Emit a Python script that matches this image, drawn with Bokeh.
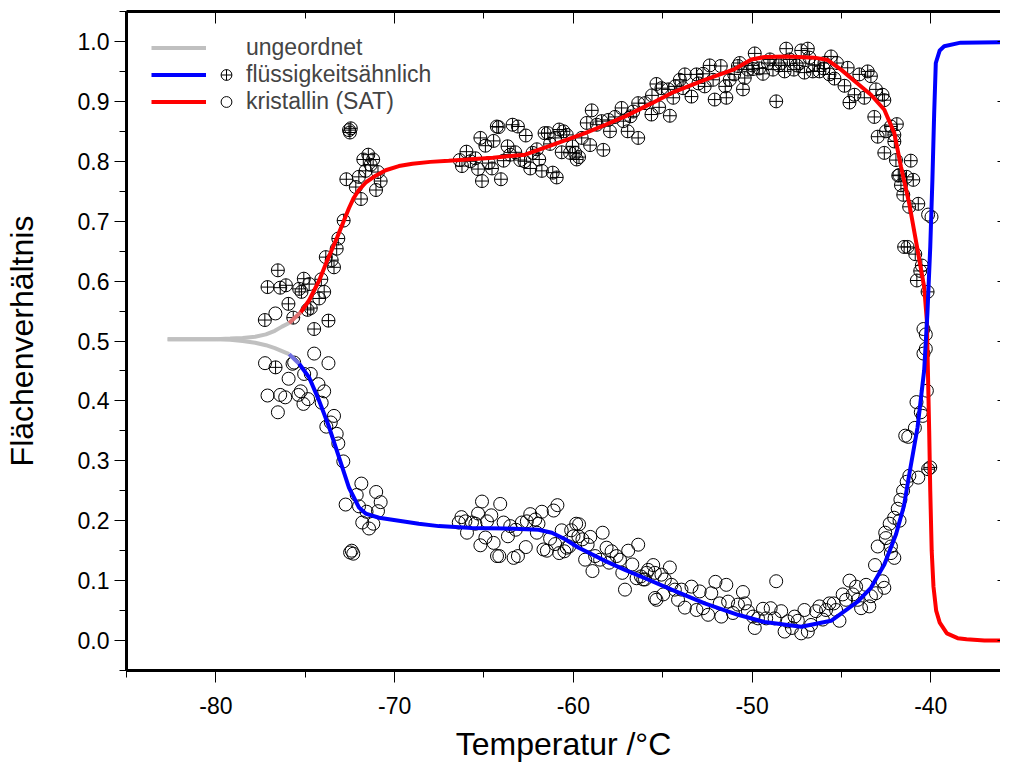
import numpy as np
from bokeh.plotting import figure
from bokeh.models import (LinearAxis, FixedTicker, Range1d, Legend, LegendItem,
                          PrintfTickFormatter, CustomLabelingPolicy)
from bokeh.embed import file_html
from bokeh.resources import INLINE

FONT = "Liberation Sans"

# ---------------- data ----------------
x_major = [-80, -70, -60, -50, -40]
x_minor = [-85, -75, -65, -55, -45, -35]
y_major = [0.0, 0.1, 0.2, 0.3, 0.4, 0.5, 0.6, 0.7, 0.8, 0.9, 1.0]
y_minor = [-0.05, 0.05, 0.15, 0.25, 0.35, 0.45, 0.55, 0.65, 0.75, 0.85, 0.95, 1.05]

# "ungeordnet" (grey) branches
gray_x = [-82.7, -81.0, -80.0, -79.2, -78.5, -77.8, -77.2, -76.7, -76.3, -75.9]
gray_up = [0.503, 0.503, 0.503, 0.504, 0.505, 0.507, 0.511, 0.517, 0.524, 0.530]
gray_lo = [0.503, 0.503, 0.503, 0.502, 0.500, 0.497, 0.493, 0.488, 0.483, 0.478]

# kristallin (SAT) - red curve
red_x = [-75.9, -75.25, -74.78, -74.22, -73.76, -73.2, -72.55, -72.3, -72.0, -71.6,
         -71.06, -70.5, -69.76, -69.0, -68.0, -66.97, -64.5, -62.7, -61.4, -59.34,
         -58.2, -57.1, -55.6, -54.5, -52.65, -50.97, -50.04, -49.3, -48.0, -46.51,
         -45.77, -45.02, -44.27, -43.35, -42.6, -42.04, -41.67, -41.21, -40.74, -40.37,
         -40.22, -40.15, -40.09, -40.03, -39.95, -39.85, -39.7, -39.5, -39.1, -38.5,
         -38.0, -37.0, -35.55]
red_y = [0.530, 0.548, 0.568, 0.601, 0.635, 0.674, 0.722, 0.738, 0.752, 0.765,
         0.776, 0.785, 0.792, 0.796, 0.799, 0.801, 0.806, 0.811, 0.825, 0.847,
         0.861, 0.875, 0.897, 0.914, 0.936, 0.954, 0.970, 0.974, 0.975, 0.973,
         0.969, 0.953, 0.934, 0.911, 0.886, 0.847, 0.791, 0.730, 0.652, 0.590,
         0.534, 0.434, 0.350, 0.250, 0.150, 0.090, 0.050, 0.030, 0.012, 0.004,
         0.002, 0.000, 0.000]

# fluessigkeitsaehnlich - blue curve
blue_x = [-75.9, -75.34, -74.78, -74.22, -73.66, -73.1, -72.55, -71.99, -71.62, -70.87,
          -68.65, -67.53, -65.67, -63.81, -61.95, -61.2, -60.46, -59.7, -58.96, -58.23,
          -57.11, -55.99, -54.5, -52.65, -50.79, -49.3, -47.25, -45.58, -44.09, -43.35,
          -42.6, -41.95, -41.5, -41.2, -40.74, -40.37, -40.19, -40.03, -39.91, -39.81,
          -39.72, -39.5, -39.25, -38.33, -35.55]
blue_y = [0.478, 0.462, 0.439, 0.400, 0.356, 0.305, 0.255, 0.222, 0.212, 0.205,
          0.195, 0.191, 0.188, 0.187, 0.185, 0.180, 0.169, 0.155, 0.144, 0.133,
          0.118, 0.104, 0.085, 0.062, 0.043, 0.031, 0.023, 0.033, 0.065, 0.088,
          0.127, 0.177, 0.225, 0.278, 0.356, 0.451, 0.546, 0.657, 0.769, 0.881,
          0.964, 0.985, 0.992, 0.998, 0.999]

# measured points, crossed circles
cross_x = [-72.55, -72.45, -72.5, -71.47, -71.75, -71.2, -71.34, -71.62, -70.93, -72.0,
           -72.7, -70.78, -72.17, -71.04, -71.88, -72.85, -73.15, -73.24, -73.85, -73.52,
           -73.39, -76.53, -75.08, -74.1, -77.11, -76.08, -76.4, -75.34, -74.78, -75.21,
           -73.94, -74.22, -75.94, -74.69, -74.87, -77.26, -75.67, -73.7, -74.5, -76.66,
           -66.36, -66.23, -65.98, -65.76, -65.48, -65.33, -65.11, -65.2, -64.92, -64.46,
           -64.74, -64.55, -64.28, -64.18, -64.05, -63.9, -63.68, -63.53, -63.4, -63.1,
           -63.25, -62.97, -62.66, -62.73, -62.41, -62.28, -62.04, -61.91, -61.76, -61.61,
           -61.43, -61.3, -61.15, -60.93, -61.02, -60.79, -60.65, -60.55, -60.37, -60.18,
           -60.05, -59.9, -59.81, -59.68, -59.53, -59.25, -59.06, -58.97, -58.69, -58.42,
           -58.32, -58.04, -57.95, -57.67, -57.3, -57.2, -56.96, -56.65, -56.37, -56.37,
           -55.99, -55.63, -55.35, -55.07, -54.6, -54.69, -54.41, -54.04, -53.76, -53.86,
           -53.39, -53.11, -52.74, -52.65, -52.37, -52.09, -52.18, -51.75, -51.44, -51.5,
           -51.25, -50.79, -50.69, -50.51, -50.41, -50.23, -49.85, -49.95, -49.39, -49.11,
           -48.65, -48.83, -48.37, -48.09, -48.18, -47.66, -47.34, -47.25, -47.07, -46.88,
           -46.79, -46.51, -46.23, -45.95, -45.67, -45.58, -45.25, -45.39, -44.83, -44.65,
           -44.55, -44.27, -44.0, -43.53, -43.35, -43.72, -43.07, -42.7, -42.6, -43.16,
           -42.97, -42.51, -42.23, -42.6, -42.04, -41.76, -51.0, -50.0, -49.6, -49.0,
           -48.5, -47.9, -47.5, -46.6, -46.0, -53.0, -54.3, -55.6, -56.8, -55.2,
           -41.9, -42.04, -41.95, -41.12, -41.82, -41.36, -40.98, -41.67, -41.54, -41.21,
           -40.7, -41.49, -41.3, -40.87, -40.5, -40.59, -40.78, -40.18, -40.03, -40.15]
cross_y = [0.852, 0.855, 0.848, 0.811, 0.803, 0.803, 0.794, 0.784, 0.782, 0.774,
           0.770, 0.767, 0.757, 0.752, 0.737, 0.701, 0.671, 0.654, 0.640, 0.635,
           0.623, 0.618, 0.604, 0.603, 0.590, 0.593, 0.589, 0.587, 0.595, 0.582,
           0.582, 0.571, 0.562, 0.555, 0.552, 0.535, 0.539, 0.534, 0.520, 0.456,
           0.802, 0.792, 0.816, 0.800, 0.805, 0.787, 0.767, 0.839, 0.826, 0.834,
           0.797, 0.788, 0.858, 0.857, 0.770, 0.801, 0.825, 0.811, 0.861, 0.858,
           0.815, 0.802, 0.843, 0.800, 0.788, 0.814, 0.820, 0.803, 0.784, 0.847,
           0.847, 0.829, 0.781, 0.773, 0.839, 0.853, 0.815, 0.850, 0.844, 0.814,
           0.825, 0.814, 0.803, 0.807, 0.839, 0.864, 0.827, 0.885, 0.861, 0.867,
           0.819, 0.869, 0.850, 0.874, 0.889, 0.867, 0.850, 0.883, 0.839, 0.897,
           0.897, 0.878, 0.929, 0.922, 0.876, 0.920, 0.906, 0.936, 0.945, 0.922,
           0.908, 0.945, 0.946, 0.925, 0.960, 0.903, 0.936, 0.959, 0.906, 0.925,
           0.936, 0.959, 0.964, 0.920, 0.939, 0.953, 0.980, 0.954, 0.946, 0.964,
           0.900, 0.953, 0.964, 0.988, 0.950, 0.953, 0.964, 0.985, 0.948, 0.988,
           0.973, 0.961, 0.950, 0.964, 0.945, 0.975, 0.964, 0.938, 0.926, 0.956,
           0.898, 0.911, 0.945, 0.950, 0.942, 0.906, 0.920, 0.911, 0.902, 0.874,
           0.841, 0.850, 0.858, 0.814, 0.844, 0.777, 0.945, 0.960, 0.955, 0.970,
           0.960, 0.970, 0.960, 0.950, 0.955, 0.930, 0.925, 0.910, 0.875, 0.890,
           0.862, 0.833, 0.802, 0.801, 0.776, 0.774, 0.769, 0.760, 0.744, 0.724,
           0.729, 0.657, 0.657, 0.645, 0.626, 0.617, 0.601, 0.582, 0.289, 0.286]

# measured points, open circles
open_x = [-76.67, -77.25, -74.5, -73.7, -75.71, -75.62, -75.93, -75.06, -74.69, -74.26,
          -73.94, -75.25, -75.38, -74.84, -75.1, -74.08, -77.11, -76.4, -76.12, -76.53,
          -73.39, -73.57, -73.82, -73.24, -73.15, -72.87, -71.86, -71.03, -70.78, -72.74,
          -72.12, -71.99, -70.93, -71.57, -71.81, -71.19, -71.43, -72.49, -72.31, -72.4,
          -66.41, -66.26, -66.04, -65.95, -65.67, -65.48, -65.33, -65.11, -65.2, -64.92,
          -64.83, -64.59, -64.46, -64.27, -64.14, -64.09, -63.9, -63.66, -63.53, -63.34,
          -63.1, -63.22, -62.88, -62.66, -62.6, -62.41, -62.13, -61.95, -61.76, -62.04,
          -61.67, -61.48, -61.3, -61.1, -60.89, -61.02, -60.79, -60.65, -60.5, -60.37,
          -60.23, -60.12, -59.99, -59.84, -59.68, -59.72, -59.49, -59.34, -59.2, -59.05,
          -58.93, -58.78, -58.5, -58.36, -58.14, -58.0, -57.86, -57.58, -57.39, -57.26,
          -57.11, -56.93, -56.7, -56.37, -56.46, -56.22, -55.99, -55.81, -55.53, -55.43,
          -56.09, -55.9, -55.35, -55.44, -55.07, -54.88, -54.6, -54.97, -54.51, -54.32,
          -54.14, -53.95, -53.76, -53.39, -53.11, -52.93, -52.74, -52.46, -52.28, -52.05,
          -51.81, -51.72, -51.44, -51.34, -51.07, -50.79, -50.51, -50.4, -50.23, -49.95,
          -49.85, -49.67, -49.39, -49.21, -48.96, -48.65, -48.74, -48.37, -48.18, -48.0,
          -47.77, -47.62, -47.44, -47.25, -47.07, -46.88, -46.7, -46.42, -46.23, -46.04,
          -45.86, -45.67, -45.43, -45.3, -45.11, -44.93, -44.74, -44.55, -44.36, -44.18,
          -44.09, -43.9, -43.62, -43.44, -43.35, -43.07, -43.12, -42.7, -42.6, -42.97,
          -42.51, -42.23, -42.23, -42.04, -42.55, -42.3, -42.05, -41.85, -41.7, -41.55,
          -41.35, -41.75, -41.2, -40.7, -40.89, -41.43, -41.26, -40.8, -40.56, -40.45,
          -40.22, -40.41, -40.28, -40.28, -40.41, -40.15, -39.96]
open_y = [0.546, 0.463, 0.479, 0.463, 0.462, 0.464, 0.437, 0.445, 0.445, 0.428,
          0.416, 0.416, 0.410, 0.403, 0.395, 0.397, 0.409, 0.410, 0.406, 0.381,
          0.375, 0.364, 0.357, 0.345, 0.329, 0.299, 0.262, 0.248, 0.231, 0.227,
          0.243, 0.224, 0.216, 0.215, 0.197, 0.195, 0.187, 0.147, 0.145, 0.150,
          0.197, 0.206, 0.199, 0.180, 0.197, 0.195, 0.212, 0.232, 0.159, 0.172,
          0.199, 0.209, 0.163, 0.141, 0.141, 0.228, 0.197, 0.174, 0.191, 0.138,
          0.141, 0.185, 0.197, 0.156, 0.199, 0.211, 0.202, 0.195, 0.215, 0.180,
          0.152, 0.150, 0.170, 0.217, 0.226, 0.161, 0.146, 0.184, 0.149, 0.155,
          0.157, 0.184, 0.174, 0.195, 0.194, 0.174, 0.169, 0.135, 0.160, 0.173,
          0.116, 0.141, 0.135, 0.180, 0.155, 0.130, 0.149, 0.141, 0.135, 0.113,
          0.085, 0.150, 0.127, 0.160, 0.104, 0.107, 0.102, 0.118, 0.126, 0.071,
          0.102, 0.113, 0.068, 0.113, 0.110, 0.102, 0.122, 0.077, 0.093, 0.085,
          0.068, 0.085, 0.055, 0.090, 0.051, 0.082, 0.054, 0.043, 0.079, 0.098,
          0.062, 0.040, 0.093, 0.065, 0.046, 0.060, 0.081, 0.062, 0.049, 0.040,
          0.021, 0.037, 0.053, 0.037, 0.054, 0.099, 0.037, 0.049, 0.015, 0.032,
          0.021, 0.040, 0.033, 0.012, 0.051, 0.015, 0.026, 0.049, 0.057, 0.035,
          0.051, 0.062, 0.062, 0.051, 0.033, 0.077, 0.068, 0.100, 0.077, 0.090,
          0.068, 0.054, 0.093, 0.057, 0.074, 0.079, 0.126, 0.099, 0.088, 0.157,
          0.171, 0.157, 0.146, 0.138, 0.180, 0.195, 0.205, 0.220, 0.235, 0.250,
          0.265, 0.200, 0.275, 0.272, 0.355, 0.342, 0.340, 0.398, 0.381, 0.375,
          0.417, 0.520, 0.511, 0.487, 0.479, 0.711, 0.707]

# ---------------- figure ----------------
p = figure(width=1000, height=764, x_range=Range1d(-85, -36.1), y_range=Range1d(-0.05, 1.05),
           output_backend="svg", toolbar_location=None,
           min_border_left=0, min_border_right=0, min_border_top=0, min_border_bottom=0)
p.outline_line_color = None
p.grid.visible = False
p.background_fill_color = "white"

xt = FixedTicker(ticks=x_major, minor_ticks=x_minor)
yt = FixedTicker(ticks=y_major, minor_ticks=y_minor)

def style_axis(ax, ticker):
    ax.ticker = ticker
    ax.axis_line_width = 3
    ax.axis_line_color = "black"
    ax.major_tick_line_color = "black"
    ax.minor_tick_line_color = "black"
    ax.major_tick_line_width = 1
    ax.minor_tick_line_width = 1
    ax.major_label_text_font = FONT
    ax.major_label_text_font_size = "23px"
    ax.major_label_text_color = "black"
    ax.axis_label_text_font = FONT
    ax.axis_label_text_font_size = "32px"
    ax.axis_label_text_font_style = "normal"
    ax.axis_label_text_color = "black"

def hide_labels(ax, size="0px"):
    # tick marks only: labels are not drawn (size only reserves room)
    ax.major_label_text_font_size = size
    ax.major_label_policy = CustomLabelingPolicy(code="return new Set()")

xa = p.xaxis[0]
style_axis(xa, xt)
xa.formatter = PrintfTickFormatter(format="%d")
xa.major_tick_out = 12
xa.major_tick_in = 0
xa.minor_tick_out = 7
xa.minor_tick_in = 0
xa.major_label_standoff = 14
xa.axis_label = "Temperatur /°C"
xa.axis_label_standoff = 9

ya = p.yaxis[0]
style_axis(ya, yt)
ya.formatter = PrintfTickFormatter(format="%.1f")
ya.major_tick_out = 12
ya.major_tick_in = 0
ya.minor_tick_out = 7
ya.minor_tick_in = 0
ya.major_label_standoff = 5
ya.axis_label = "Flächenverhältnis"
ya.axis_label_standoff = 35

top = LinearAxis()
style_axis(top, FixedTicker(ticks=x_major, minor_ticks=x_minor))
top.major_tick_in = 12
top.major_tick_out = 0
top.minor_tick_in = 7
top.minor_tick_out = 0
hide_labels(top, "10px")
top.major_label_standoff = 0
p.add_layout(top, "above")

right = LinearAxis()
style_axis(right, FixedTicker(ticks=y_major, minor_ticks=[]))
right.axis_line_color = None
right.major_tick_in = 3
right.major_tick_out = 0
right.minor_tick_in = 0
right.minor_tick_out = 0
hide_labels(right)
right.major_label_standoff = 0
p.add_layout(right, "right")

# scatter points
r_cross = p.scatter(cross_x, cross_y, marker="circle_cross", size=13,
                    line_color="black", line_width=1, fill_color=None)
r_open = p.scatter(open_x, open_y, marker="circle", size=13,
                   line_color="black", line_width=1, fill_color=None)

# curves
LW = 4
r_gray = p.line(gray_x, gray_up, line_color="#c0c0c0", line_width=LW)
p.line(gray_x, gray_lo, line_color="#c0c0c0", line_width=LW)

rx = np.array(red_x); ry = np.array(red_y)
bx = np.array(blue_x); by = np.array(blue_y)
p.line(rx[rx <= -75.2], ry[rx <= -75.2], line_color="#e07070", line_width=LW)
r_red = p.line(rx[rx >= -75.25], ry[rx >= -75.25], line_color="#ff0000", line_width=LW)
p.line(bx[bx <= -75.3], by[bx <= -75.3], line_color="#7070e0", line_width=LW)
r_blue = p.line(bx[bx >= -75.34], by[bx >= -75.34], line_color="#0000ff", line_width=LW)

# invisible renderer for the legend row without a marker
r_none = p.scatter([], [], marker="circle", size=1, line_alpha=0, fill_alpha=0)

common = dict(padding=0, margin=0, spacing=0, border_line_color=None,
              background_fill_alpha=0, label_text_font=FONT, label_text_font_size="23px",
              label_height=27, glyph_height=27)
leg_lines = Legend(items=[LegendItem(label=" ", renderers=[r_gray]),
                          LegendItem(label=" ", renderers=[r_blue]),
                          LegendItem(label=" ", renderers=[r_red])],
                   location=(25, 555), glyph_width=55, label_standoff=0, label_width=0,
                   **common)
leg_marks = Legend(items=[LegendItem(label="ungeordnet", renderers=[r_none]),
                          LegendItem(label="flüssigkeitsähnlich", renderers=[r_cross]),
                          LegendItem(label="kristallin (SAT)", renderers=[r_open])],
                   location=(84, 555), glyph_width=32, label_standoff=4, **common)
p.add_layout(leg_lines)
p.add_layout(leg_marks)

open("out.html", "w").write(file_html(p, INLINE))
